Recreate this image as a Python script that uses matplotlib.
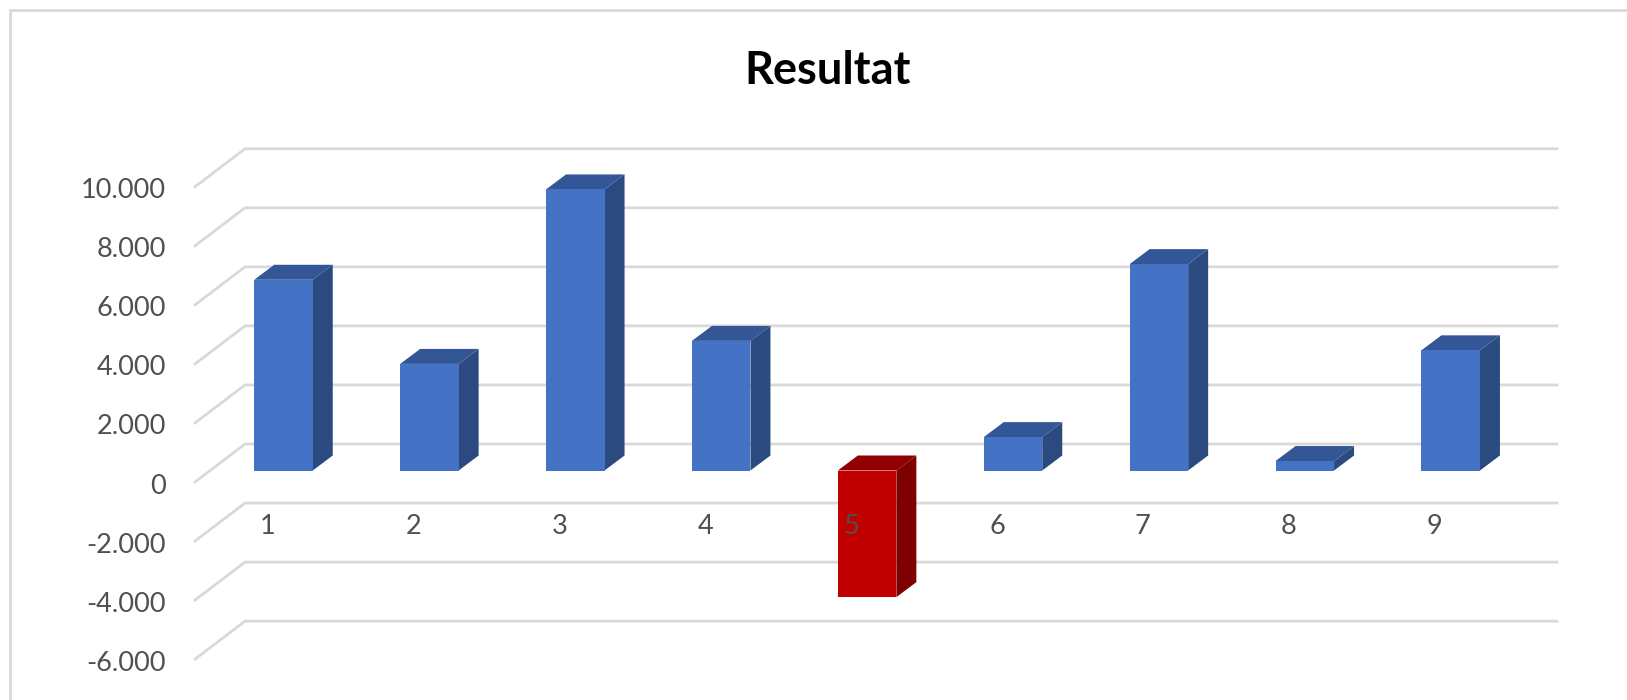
"""Resultat - column chart with a drawn 3D look"""
import matplotlib
matplotlib.use('Agg')
import matplotlib.pyplot as plt

plt.rcParams['font.family'] = ['Lato', 'DejaVu Sans']

categories = [1, 2, 3, 4, 5, 6, 7, 8, 9]
values = [6460, 3610, 9520, 4390, -4290, 1130, 6990, 320, 4070]
y_ticks = [10000, 8000, 6000, 4000, 2000, 0, -2000, -4000, -6000]
y_labels = ['10.000', '8.000', '6.000', '4.000', '2.000', '0', '-2.000', '-4.000', '-6.000']

# pixel scale of the reference
PX_PER_CAT = 145.9
PX_PER_UNIT = 59.05 / 2000
X0_PX = 283.5   # centre of bar 1
Y0_PX = 470.5   # value 0 on the bar front

BAR_W = 58.5 / PX_PER_CAT
BAR_DX = 20 / PX_PER_CAT
BAR_DY = 15 / PX_PER_UNIT

GRID_FRONT_X = 1 + (195 - X0_PX) / PX_PER_CAT
GRID_BACK_X = 1 + (245 - X0_PX) / PX_PER_CAT
GRID_END_X = 1 + (1557 - X0_PX) / PX_PER_CAT
GRID_FRONT_Y = -11.5 / PX_PER_UNIT
GRID_BACK_Y = 26.5 / PX_PER_UNIT

fig = plt.figure(figsize=(16.27, 7), dpi=100, facecolor='white')
ax = fig.add_axes([0, 0, 1, 1])
ax.set_xlim(1 - X0_PX / PX_PER_CAT, 1 + (1627 - X0_PX) / PX_PER_CAT)
ax.set_ylim(-(700 - Y0_PX) / PX_PER_UNIT, Y0_PX / PX_PER_UNIT)
ax.axis('off')

# frame of the chart area, only top and left show
ax.plot([10 / 1627, 10 / 1627, 1], [0, 1 - 10 / 700, 1 - 10 / 700], transform=ax.transAxes,
        color='#D9D9D9', linewidth=2, solid_joinstyle='miter', zorder=1)

# gridlines with the slanted part on the left
for t in y_ticks:
    ax.plot([GRID_FRONT_X, GRID_BACK_X, GRID_END_X],
            [t + GRID_FRONT_Y, t + GRID_BACK_Y, t + GRID_BACK_Y],
            color='#D9D9D9', linewidth=2, zorder=2)

for t, label in zip(y_ticks, y_labels):
    ax.text(1 + (166 - X0_PX) / PX_PER_CAT, t + GRID_FRONT_Y - 4 / PX_PER_UNIT, label, ha='right', va='center',
            fontsize=19.5, color='#505050', zorder=6)

# bars: side and top faces first, front face over them
for cat, v in zip(categories, values):
    if v < 0:
        front, side, top = '#C00000', '#7F0000', '#900000'
    else:
        front, side, top = '#4472C4', '#2A4A80', '#335796'
    lo, hi = min(v, 0), max(v, 0)
    left, right = cat - BAR_W / 2, cat + BAR_W / 2
    ax.fill([right, right + BAR_DX, right + BAR_DX, right],
            [lo, lo + BAR_DY, hi + BAR_DY, hi], color=side, linewidth=0, zorder=3)
    ax.fill([left, left + BAR_DX, right + BAR_DX, right],
            [hi, hi + BAR_DY, hi + BAR_DY, hi], color=top, linewidth=0, zorder=3)
    ax.bar(cat, v, width=BAR_W, color=front, linewidth=0, zorder=4)

# category labels sit on the plane below zero, also over the red bar
for cat in categories:
    ax.text(cat - 16 / PX_PER_CAT, -56 / PX_PER_UNIT, str(cat), ha='center', va='center',
            fontsize=19.5, color='#505050', zorder=6)

ax.text(1 + (828 - X0_PX) / PX_PER_CAT, (Y0_PX - 71) / PX_PER_UNIT, 'Resultat', ha='center', va='center',
        fontsize=32.5, fontweight='bold', color='black', zorder=6)

plt.savefig('out.png', dpi=100)
